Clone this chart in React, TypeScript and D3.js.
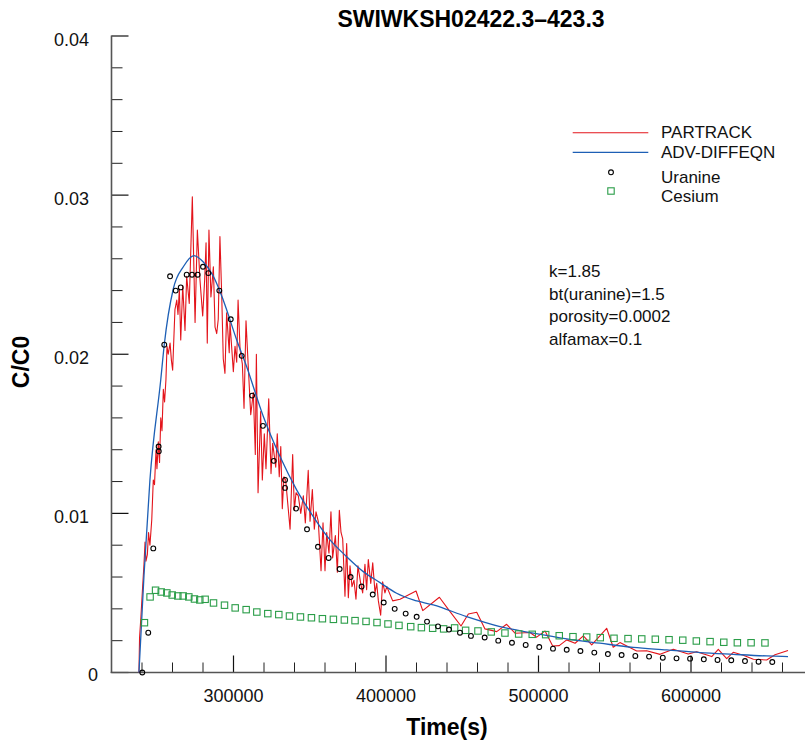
import React, { useEffect, useRef } from 'react';
import * as d3 from 'd3';

// PARTRACK (particle tracking) result, time in s, C/C0
const partrackTime = [
  238000, 238400, 239300, 240300, 241300, 242000, 242600, 243500, 244300, 245200,
  246400, 247400, 248200, 249200, 249800, 250700, 251500, 252300, 253100, 254000,
  254800, 255700, 256400, 257200, 258400, 259300, 260100, 261600, 262800, 263600,
  264500, 265400, 266700, 268200, 269300, 271000, 273000, 274800, 276300, 278000,
  279800, 281100, 282000, 282800, 283900, 285200, 286800, 287900, 289000, 290000,
  291100, 292300, 293300, 294400, 295500, 297200, 297700, 299900, 301000, 302100,
  303000, 304300, 305800, 306900, 308200, 309700, 311300, 313000, 314300, 315000,
  316100, 317800, 318900, 320200, 321300, 323100, 324600, 325700, 327700, 328700,
  330000, 331000, 332000, 333100, 334200, 337100, 338800, 339900, 341000, 342500,
  344100, 345800, 347100, 349000, 350200, 351700, 353000, 354100, 355600, 357400,
  358700, 360000, 361100, 362600, 363900, 365000, 366800, 368100, 369400, 370500,
  371600, 373100, 374200, 375300, 376400, 377700, 379000, 380300, 381600, 383400,
  384700, 386200, 387300, 388400, 390000, 391300, 392800, 393900, 395000, 396500,
  397800, 399300, 400500, 404400, 409200, 419700, 424100, 435000, 441500, 449200,
  454000, 459500, 464900, 472600, 479100, 484600, 494400, 498800, 504300, 509300,
  513600, 518500, 524000, 529400, 534900, 544700, 549000, 553400, 564400, 570900,
  579700, 588400, 598200, 603700, 613600, 617900, 623400, 627700, 634300, 640900,
  649600, 655100, 663600,
];
const partrackConc = [
  0, 0.0022, 0.0035, 0.0052, 0.0068, 0.0082, 0.007, 0.0074, 0.0088, 0.008,
  0.0096, 0.0121, 0.0118, 0.014, 0.0128, 0.0145, 0.0132, 0.016, 0.0152, 0.0178,
  0.017, 0.0184, 0.0205, 0.02, 0.0207, 0.0196, 0.019, 0.0228, 0.0234, 0.0225,
  0.0241, 0.0209, 0.0243, 0.0215, 0.0249, 0.0232, 0.0299, 0.022, 0.0278, 0.0247,
  0.0224, 0.0247, 0.027, 0.0207, 0.0278, 0.0236, 0.0255, 0.0217, 0.0213, 0.0222,
  0.0274, 0.0236, 0.0197, 0.0188, 0.0226, 0.0201, 0.022, 0.0189, 0.0205, 0.0195,
  0.0234, 0.0203, 0.0194, 0.0166, 0.0221, 0.0192, 0.0162, 0.0176, 0.0137, 0.02,
  0.0113, 0.0164, 0.0121, 0.015, 0.0128, 0.0172, 0.0125, 0.0144, 0.0129, 0.015,
  0.0123, 0.0142, 0.0103, 0.0123, 0.0121, 0.009, 0.0137, 0.0102, 0.0113, 0.0111,
  0.01, 0.0111, 0.0094, 0.0127, 0.0095, 0.0115, 0.009, 0.0101, 0.0095, 0.0064,
  0.0094, 0.0064, 0.0088, 0.0075, 0.0101, 0.0072, 0.0086, 0.0063, 0.0102, 0.0088,
  0.0084, 0.0048, 0.0081, 0.0047, 0.0067, 0.0054, 0.0058, 0.0046, 0.0067, 0.0056,
  0.005, 0.0068, 0.0052, 0.0071, 0.0056, 0.0069, 0.005, 0.0056, 0.0045, 0.0036,
  0.0057, 0.005, 0.0054, 0.0045, 0.0046, 0.00512, 0.00389, 0.00473, 0.00389, 0.00292,
  0.00368, 0.00379, 0.00274, 0.00257, 0.00303, 0.00247, 0.00251, 0.00222, 0.00261, 0.00167,
  0.00169, 0.00205, 0.00184, 0.0023, 0.00173, 0.00278, 0.00159, 0.00188, 0.00135, 0.00137,
  0.00114, 0.00146, 0.00116, 0.00131, 0.001, 0.00146, 0.00087, 0.00127, 0.00108, 0.00083,
  0.00079, 0.00111, 0.00138,
];

// ADV-DIFFEQN analytical curve
const advTime = [
  238000, 241300, 245200, 252300, 254600, 260500, 267100, 274100, 280200, 286800,
  293300, 302100, 308700, 319500, 330500, 341400, 352300, 363300, 374200, 385100,
  396100, 407000, 417900, 431000, 452900, 474800, 496600, 518500, 540300, 562200,
  584100, 606000, 627700, 649600, 663600,
];
const advConc = [
  0, 0.0061, 0.0121, 0.0184, 0.0206, 0.0241, 0.0255, 0.0262, 0.0258, 0.0249,
  0.0234, 0.0209, 0.0192, 0.0161, 0.01357, 0.01148, 0.0098, 0.00833, 0.00728, 0.00634,
  0.00565, 0.00498, 0.00456, 0.00425, 0.00351, 0.00288, 0.00247, 0.00211, 0.00184, 0.00158,
  0.00142, 0.00125, 0.00114, 0.00104, 0.001,
];

// measured Uranine
const uranineTime = [
  240200, 244100, 247400, 250900, 251000, 254600, 258400, 262100, 265400, 269300,
  272800, 276500, 280000, 283500, 290700, 298200, 305400, 312200, 319300, 326400,
  333800, 333800, 341000, 348200, 355400, 362400, 369600, 376800, 384000, 391300,
  398500, 405700, 412900, 420100, 426900, 434100, 441300, 448500, 455700, 464700,
  473600, 482600, 491600, 500500, 509500, 518500, 527500, 536600, 545500, 554500,
  563500, 572500, 581500, 590500, 599400, 608400, 617400, 626400, 635400, 644300,
  653300,
];
const uranineConc = [
  0, 0.0025, 0.0078, 0.0142, 0.0139, 0.0206, 0.0249, 0.024, 0.0242, 0.025,
  0.025, 0.025, 0.0255, 0.0251, 0.024, 0.0222, 0.0199, 0.0174, 0.0155, 0.0133,
  0.0121, 0.0116, 0.0103, 0.009, 0.0079, 0.0072, 0.0065, 0.006, 0.0054, 0.0049,
  0.0044, 0.004, 0.0037, 0.0035, 0.0032, 0.0029, 0.0027, 0.0025, 0.0023, 0.0022,
  0.002, 0.00187, 0.00173, 0.0016, 0.0015, 0.00143, 0.00135, 0.00125, 0.00116, 0.0011,
  0.00104, 0.001, 0.00093, 0.00089, 0.00087, 0.00083, 0.00079, 0.00077, 0.00072, 0.00068,
  0.00066,
];

// measured Cesium
const cesiumTime = [
  241600, 245300, 248900, 252600, 256300, 259800, 263500, 267000, 270700, 274400,
  277900, 281400, 286900, 294100, 301100, 308300, 315300, 322500, 329700, 336700,
  343900, 351100, 358300, 365500, 372700, 379700, 386900, 394100, 401300, 408500,
  416200, 423200, 430600, 437800, 445000, 452200, 460300, 469000, 478000, 487000,
  495900, 504700, 513600, 522600, 531600, 540500, 549500, 558700, 567700, 576600,
  585600, 594600, 603500, 612500, 621500, 630400, 639400, 648500,
];
const cesiumConc = [
  0.00313, 0.00475, 0.00517, 0.00506, 0.005, 0.00487, 0.00481, 0.00481, 0.00475, 0.00462,
  0.00456, 0.0046, 0.00437, 0.00423, 0.00406, 0.00395, 0.0038, 0.0037, 0.00364, 0.00355,
  0.00349, 0.00344, 0.00338, 0.00334, 0.0033, 0.00326, 0.00321, 0.00314, 0.00305, 0.00296,
  0.00288, 0.00282, 0.00278, 0.00274, 0.0028, 0.00265, 0.00261, 0.00255, 0.00248, 0.00242,
  0.0024, 0.00238, 0.00231, 0.00225, 0.00223, 0.00219, 0.00215, 0.00213, 0.00211, 0.00209,
  0.00206, 0.00203, 0.00198, 0.00194, 0.0019, 0.00187, 0.00187, 0.00186,
];

const yMajor = [0, 0.01, 0.02, 0.03, 0.04];
const yLabels = ['0', '0.01', '0.02', '0.03', '0.04'];
const xMajor = [300000, 400000, 500000, 600000];
const xLabels = ['300000', '400000', '500000', '600000'];
const legendNames = ['PARTRACK', 'ADV-DIFFEQN', 'Uranine', 'Cesium'];
const notes = ['k=1.85', 'bt(uranine)=1.5', 'porosity=0.0002', 'alfamax=0.1'];

const FONT = "'Liberation Sans', Arial, Helvetica, sans-serif";
const RED = '#e3141b';
const BLUE = '#1d5fb5';
const GREEN = '#2a9d48';

export default function App() {
  const ref = useRef<SVGSVGElement>(null);

  useEffect(() => {
    const width = 805;
    const height = 742;
    const svg = d3.select(ref.current);
    svg.selectAll('*').remove();
    svg.attr('width', width).attr('height', height);

    const x = d3.scaleLinear().domain([220000, 680000]).range([111.5, 813]);
    const y = d3.scaleLinear().domain([0, 0.04]).range([672.5, 36]);

    // axes, ticks point inwards
    const ax = svg.append('g');
    const yMinor = d3.range(0, 0.0401, 0.002).filter(v => !yMajor.some(m => Math.abs(m - v) < 1e-9));
    ax.selectAll('.ymin').data(yMinor).enter().append('line')
      .attr('x1', 111.5).attr('x2', 122.5)
      .attr('y1', d => y(d)).attr('y2', d => y(d))
      .attr('stroke', '#222').attr('stroke-width', 1);
    ax.selectAll('.ymaj').data(yMajor).enter().append('line')
      .attr('x1', 111.5).attr('x2', 128.5)
      .attr('y1', d => y(d)).attr('y2', d => y(d))
      .attr('stroke', '#111').attr('stroke-width', 1.2);
    const xMinor = d3.range(240000, 680001, 20000).filter(v => xMajor.indexOf(v) < 0);
    ax.selectAll('.xmin').data(xMinor).enter().append('line')
      .attr('x1', d => x(d)).attr('x2', d => x(d))
      .attr('y1', 672.5).attr('y2', 662.5)
      .attr('stroke', '#222').attr('stroke-width', 1);
    ax.selectAll('.xmaj').data(xMajor).enter().append('line')
      .attr('x1', d => x(d)).attr('x2', d => x(d))
      .attr('y1', 672.5).attr('y2', 655.5)
      .attr('stroke', '#111').attr('stroke-width', 1.2);
    ax.append('line').attr('x1', 111.5).attr('x2', 111.5).attr('y1', 35.5).attr('y2', 673)
      .attr('stroke', '#555').attr('stroke-width', 1.6);
    ax.append('line').attr('x1', 110.7).attr('x2', 813).attr('y1', 672.5).attr('y2', 672.5)
      .attr('stroke', '#555').attr('stroke-width', 1.6);

    ax.selectAll('.ylab').data(yMajor).enter().append('text')
      .attr('x', (d, i) => (i === 0 ? 98 : 89))
      .attr('y', (d, i) => (i === 0 ? y(d) + 8 : y(d) + 10))
      .attr('text-anchor', 'end')
      .attr('font-family', FONT).attr('font-size', 18).attr('fill', '#111')
      .text((d, i) => yLabels[i]);
    ax.selectAll('.xlab').data(xMajor).enter().append('text')
      .attr('x', d => x(d)).attr('y', 702)
      .attr('text-anchor', 'middle')
      .attr('font-family', FONT).attr('font-size', 18).attr('fill', '#111')
      .text((d, i) => xLabels[i]);

    svg.append('text')
      .attr('x', 447).attr('y', 735)
      .attr('text-anchor', 'middle')
      .attr('font-family', FONT).attr('font-size', 23).attr('font-weight', 'bold')
      .text('Time(s)');
    svg.append('text')
      .attr('transform', 'translate(29,362) rotate(-90)')
      .attr('text-anchor', 'middle')
      .attr('font-family', FONT).attr('font-size', 23).attr('font-weight', 'bold')
      .text('C/C0');
    svg.append('text')
      .attr('x', 471).attr('y', 27)
      .attr('text-anchor', 'middle')
      .attr('font-family', FONT).attr('font-size', 23).attr('font-weight', 'bold')
      .text('SWIWKSH02422.3–423.3');

    // series
    const plot = svg.append('g');
    const red = partrackTime.map((t, i) => [t, partrackConc[i]] as [number, number]);
    const blue = advTime.map((t, i) => [t, advConc[i]] as [number, number]);
    const lineRed = d3.line<[number, number]>().x(d => x(d[0])).y(d => y(d[1]));
    const lineBlue = d3.line<[number, number]>().x(d => x(d[0])).y(d => y(d[1])).curve(d3.curveMonotoneX);
    plot.append('path').attr('d', lineRed(red)).attr('fill', 'none')
      .attr('stroke', RED).attr('stroke-width', 1.1).attr('stroke-linejoin', 'round');
    plot.append('path').attr('d', lineBlue(blue)).attr('fill', 'none')
      .attr('stroke', BLUE).attr('stroke-width', 1.3);

    plot.selectAll('.cs').data(cesiumTime).enter().append('rect')
      .attr('x', d => x(d) - 3.2).attr('y', (d, i) => y(cesiumConc[i]) - 3.2)
      .attr('width', 6.4).attr('height', 6.4)
      .attr('fill', 'none').attr('stroke', GREEN).attr('stroke-width', 1.1);
    plot.selectAll('.ur').data(uranineTime).enter().append('circle')
      .attr('cx', d => x(d)).attr('cy', (d, i) => y(uranineConc[i]))
      .attr('r', 2.4)
      .attr('fill', 'none').attr('stroke', '#000').attr('stroke-width', 1.1);

    // legend
    const lg = svg.append('g');
    const rows = [132.7, 152.3, 172.3, 191];
    const textY = [137.5, 157.5, 182.5, 201.5];
    lg.append('line').attr('x1', 572.7).attr('x2', 648.3).attr('y1', rows[0]).attr('y2', rows[0])
      .attr('stroke', RED).attr('stroke-width', 1.1);
    lg.append('line').attr('x1', 572.7).attr('x2', 648.3).attr('y1', rows[1]).attr('y2', rows[1])
      .attr('stroke', BLUE).attr('stroke-width', 1.3);
    lg.append('circle').attr('cx', 611).attr('cy', rows[2]).attr('r', 2.4)
      .attr('fill', 'none').attr('stroke', '#000').attr('stroke-width', 1.1);
    lg.append('rect').attr('x', 607.8).attr('y', rows[3] - 3.2).attr('width', 6.4).attr('height', 6.4)
      .attr('fill', 'none').attr('stroke', GREEN).attr('stroke-width', 1.1);
    lg.selectAll('.lt').data(legendNames).enter().append('text')
      .attr('x', 661).attr('y', (d, i) => textY[i])
      .attr('font-family', FONT).attr('font-size', 17).attr('fill', '#111')
      .text(d => d);

    svg.selectAll('.note').data(notes).enter().append('text')
      .attr('x', 549).attr('y', (d, i) => 277 + i * 22.5)
      .attr('font-family', FONT).attr('font-size', 17).attr('fill', '#111')
      .text(d => d);
  }, []);

  return (
    <div style={{ position: 'absolute', left: 0, top: 0 }}>
      <svg ref={ref} />
    </div>
  );
}
